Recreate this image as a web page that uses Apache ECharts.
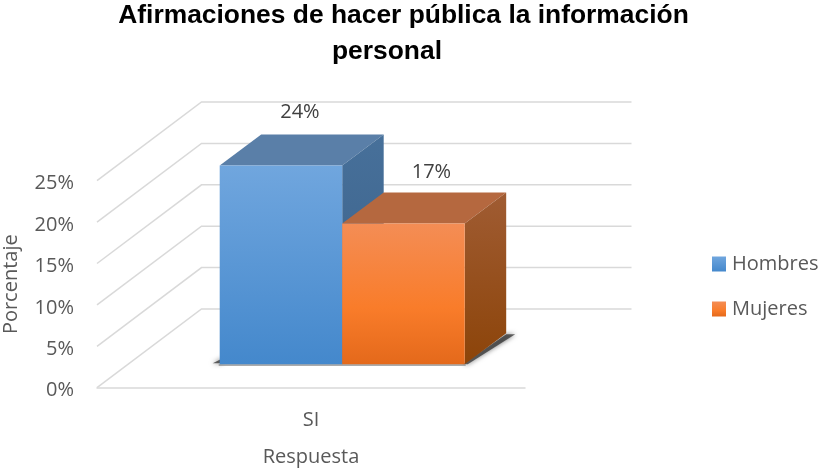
<!DOCTYPE html>
<html>
<head>
<meta charset="utf-8">
<script src="https://cdn.jsdelivr.net/npm/echarts@6/dist/echarts.min.js"></script>
<style>html,body{margin:0;padding:0;background:#fff}#c{width:820px;height:469px}</style>
</head>
<body>
<div id="c"></div>
<script>
var titleLines = ['Afirmaciones de hacer pública la información', 'personal'];
var categories = ['SI'];
var hombres = [24];
var mujeres = [17];
var ticks = [0, 5, 10, 15, 20, 25];
var xName = 'Respuesta';
var yName = 'Porcentaje';

function grad(a, b, c) {
  var stops = c ? [{offset:0,color:a},{offset:0.6,color:b},{offset:1,color:c}] : [{offset:0,color:a},{offset:1,color:b}];
  return new echarts.graphic.LinearGradient(0, 0, 0, 1, stops);
}
var WALL_DX = 104.5, WALL_DY = -78.7, BAR_W = 122.5, BAR_DX = 41.5, BAR_DY = -31;
var FLOOR_DX = 31.2, FLOOR_DY = -23.4, GRID = '#D9D9D9';

function wallItem(params, api) {
  var cs = params.coordSys;
  var y = api.coord([0, api.value(0)])[1];
  var x0 = cs.x;
  var x1 = cs.x + WALL_DX, y1 = y + WALL_DY;
  var style = {stroke: GRID, lineWidth: 1.5, fill: null};
  return {type: 'group', children: [
    {type: 'polyline', shape: {points: [[x0, y], [x1, y1], [x1 + cs.width + 2, y1]]}, style: style, silent: true}
  ]};
}
function barItem(idx, c) {
  return function (params, api) {
    var top = api.coord([api.value(0), api.value(1)]);
    var bot = api.coord([api.value(0), 0]);
    var cx = bot[0] + FLOOR_DX;
    var l = cx + (idx - 1) * BAR_W, r = l + BAR_W;
    var yb = bot[1] + FLOOR_DY, yt = top[1] + FLOOR_DY;
    var dx = BAR_DX, dy = BAR_DY;
    var ch = [
      {type:'polygon', shape:{points:[[l,yt],[r,yt],[r+dx,yt+dy],[l+dx,yt+dy]]}, style:{fill:c.top}},
      {type:'polygon', shape:{points:[[r,yt],[r+dx,yt+dy],[r+dx,yb+dy],[r,yb]]}, style:{fill:c.side}},
      {type:'rect', shape:{x:l,y:yt,width:BAR_W,height:yb-yt}, style:{fill:c.front}},
      {type:'text', style:{x:l+BAR_W/2+c.lx, y:yt+dy+c.ly, text:api.value(1)+'%', fill:'#404040', font:'20px "Open Sans"', align:'center', verticalAlign:'middle'}}
    ];
    return {type:'group', children: ch};
  };
}
function shadowItem(params, api) {
  var bot = api.coord([api.value(0), 0]);
  var cx = bot[0] + FLOOR_DX, yb = bot[1] + FLOOR_DY;
  var l = cx - BAR_W, r = cx + BAR_W;
  var blur = {fill:'rgba(40,40,40,0.7)', shadowBlur:5, shadowColor:'rgba(0,0,0,0.8)'};
  return {type:'group', silent:true, children:[
    {type:'polygon', shape:{points:[[r-2,yb],[r+3,yb],[r+BAR_DX+9,yb+BAR_DY+1],[r+BAR_DX,yb+BAR_DY+1]]}, style:blur},
    {type:'polygon', shape:{points:[[l-7,yb-1],[l+3,yb-1],[l+3,yb-6]]}, style:blur},
    {type:'rect', shape:{x:l-1,y:yb,width:2*BAR_W+2,height:1.5}, style:{fill:'#8f8f8f'}}
  ]};
}
var blue = {front:grad('#70A6DE','#4488CC'), top:'#5A7FA8', side:grad('#47709A','#3A6088'), lx:19, ly:-22.6};
var orange = {front:grad('#F48D55','#F97C2A','#E4691B'), top:'#B5683F', side:grad('#A05C33','#8C4409'), lx:28, ly:-20};

var titleStyle = {fontFamily:'Liberation Sans', fontSize:26.4, fontWeight:'bold', color:'#000', lineHeight:36};
var option = {
  animation: false,
  backgroundColor: '#fff',
  title: [
    {text: titleLines[0], left: 403.5, top: -2, padding:0, textAlign: 'center', textStyle: titleStyle},
    {text: titleLines[1], left: 387, top: 34, padding:0, textAlign: 'center', textStyle: titleStyle}
  ],
  legend: {orient:'vertical', left:712, top:254, padding:0, itemWidth:14, itemHeight:15, itemGap:25, icon:'rect',
    data:['Hombres','Mujeres'], textStyle:{fontFamily:'Open Sans', fontSize:20, color:'#595959', padding:[0,0,0,1]}},
  grid: {left:97, top:180.7, width:428, height:207, outerBoundsMode:'none'},
  xAxis: {type:'category', data:categories, name:xName, nameLocation:'middle', nameGap:60,
    nameTextStyle:{fontFamily:'Open Sans', fontSize:20, color:'#595959'},
    axisLine:{show:true, lineStyle:{color:GRID, width:1.5}}, axisTick:{show:false},
    axisLabel:{fontFamily:'Open Sans', fontSize:20, color:'#595959', margin:23}},
  yAxis: {type:'value', min:ticks[0], max:ticks[ticks.length-1], interval:5, name:yName, nameLocation:'middle', nameGap:76,
    nameTextStyle:{fontFamily:'Open Sans', fontSize:20, color:'#595959'},
    axisLine:{show:false}, axisTick:{show:false}, splitLine:{show:false},
    axisLabel:{formatter:'{value}%', fontFamily:'Open Sans', fontSize:20, color:'#595959', margin:23, verticalAlign:'top', lineHeight:6}},
  series: [
    {type:'custom', name:'wall', coordinateSystem:'cartesian2d', silent:true, renderItem:wallItem,
      data:ticks.map(function(t){return [t];}), encode:{y:0}, z:1},
    {type:'custom', name:'floor', coordinateSystem:'cartesian2d', silent:true, renderItem:shadowItem,
      data:categories.map(function(c,i){return [i];}), encode:{x:0}, z:2},
    {type:'custom', name:'Hombres', coordinateSystem:'cartesian2d', renderItem:barItem(0, blue),
      itemStyle:{color:blue.front}, data:categories.map(function(c,i){return [i,hombres[i]];}), encode:{x:0,y:1}, z:3},
    {type:'custom', name:'Mujeres', coordinateSystem:'cartesian2d', renderItem:barItem(1, orange),
      itemStyle:{color:orange.front}, data:categories.map(function(c,i){return [i,mujeres[i]];}), encode:{x:0,y:1}, z:4}
  ]
};
var chart = echarts.init(document.getElementById('c'), null, {renderer:'canvas'});
chart.setOption(option);
</script>
</body>
</html>
